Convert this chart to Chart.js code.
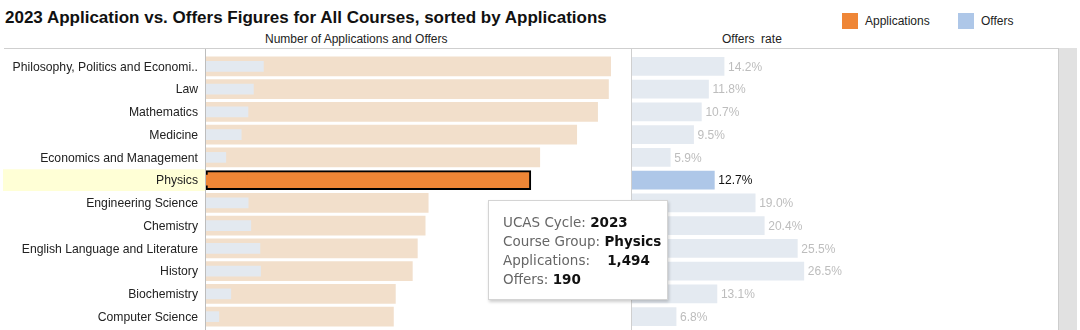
<!DOCTYPE html>
<html>
<head>
<meta charset="utf-8">
<script src="https://cdn.jsdelivr.net/npm/chart.js@4"></script>
<style>
  body { margin: 0; width: 1080px; height: 330px; overflow: hidden; background: #fff; font-family: Arial, "Liberation Sans", sans-serif; position: relative; }
  .title { position: absolute; left: 5px; top: 8px; font-size: 17px; font-weight: bold; color: #111; }
  .subtitle { position: absolute; top: 32px; font-size: 12px; color: #222; }
  .legend { position: absolute; top: 13px; font-size: 12px; color: #222; display: flex; align-items: center; }
  .legend span.sw { display: inline-block; width: 16px; height: 16px; margin-right: 7px; }
  .topline { position: absolute; left: 4px; top: 48px; width: 1054px; height: 1px; background: #cfcfcf; }
  .axisline { position: absolute; left: 205px; top: 49px; width: 1px; height: 290px; background: #bdbdbd; }
  .scroll { position: absolute; left: 1058px; top: 48px; width: 18px; height: 290px; background: #e1e1e1; border-left: 1px solid #cdcdcd; }
  .rbox { position: absolute; left: 631px; top: 48px; width: 426px; height: 290px; border-left: 1px solid #cfcfcf; border-right: 1px solid #cfcfcf; }
  #left { position: absolute; left: 0; top: 55px; }
  #right { position: absolute; left: 632px; top: 55px; }
  .tip { position: absolute; left: 488px; top: 200px; width: 180px; height: 100px; background: #fff; border: 1px solid #d4d4d4; box-shadow: 1px 2px 3px rgba(0,0,0,0.2); box-sizing: border-box; padding: 12px 0 0 14px; font-family: "DejaVu Sans", Verdana, sans-serif; font-size: 13.5px; line-height: 19px; color: #666; }
  .tip b { color: #111; }
</style>
</head>
<body>
<div class="title">2023 Application vs. Offers Figures for All Courses, sorted by Applications</div>
<div class="subtitle" style="left:265px">Number of Applications and Offers</div>
<div class="subtitle" style="left:722px">Offers&nbsp;&nbsp;rate</div>
<div class="legend" style="left:842px"><span class="sw" style="background:#ef8636"></span>Applications</div>
<div class="legend" style="left:958px"><span class="sw" style="background:#aec7e8"></span>Offers</div>
<div class="topline"></div>
<div class="rbox"></div>
<div class="scroll"></div>
<canvas id="left" width="632" height="273"></canvas>
<div class="axisline"></div>
<canvas id="right" width="426" height="273"></canvas>
<div class="tip" id="tip"></div>

<script>
const courses = ['Philosophy, Politics and Economi..', 'Law', 'Mathematics', 'Medicine', 'Economics and Management', 'Physics',
  'Engineering Science', 'Chemistry', 'English Language and Literature', 'History', 'Biochemistry', 'Computer Science'];
const applications = [1861, 1851, 1801, 1705, 1535, 1494, 1022, 1008, 972, 949, 871, 862];
const offers = [264, 218, 193, 162, 91, 190, 194, 206, 248, 251, 114, 59];
const offerRate = [14.2, 11.8, 10.7, 9.5, 5.9, 12.7, 19.0, 20.4, 25.5, 26.5, 13.1, 6.8];
const cycle = '2023';
const selected = 'Physics';

const sel = courses.indexOf(selected);
const FONT = 'Arial, "Liberation Sans", sans-serif';

// category labels + yellow highlight behind the selected row
const rowLabels = {
  id: 'rowLabels',
  beforeDraw(chart) {
    const { ctx, chartArea, scales } = chart;
    const band = chartArea.height / courses.length;
    ctx.save();
    const ys = scales.y.getPixelForValue(sel);
    ctx.fillStyle = '#ffffd6';
    ctx.fillRect(3, ys - band / 2 + 0.5, chartArea.left - 4, band - 1);
    ctx.font = '12.2px ' + FONT;
    ctx.fillStyle = '#222';
    ctx.textAlign = 'right';
    ctx.textBaseline = 'middle';
    courses.forEach((c, i) => {
      ctx.fillText(c, chartArea.left - 8, scales.y.getPixelForValue(i) + 1);
    });
    ctx.restore();
  }
};

new Chart(document.getElementById('left'), {
  type: 'bar',
  data: {
    labels: courses,
    datasets: [
      {
        label: 'Applications', data: applications, order: 1, grouped: false,
        barThickness: 19,
        backgroundColor: courses.map((c, i) => i === sel ? '#ef8636' : '#f2dfcb'),
        borderColor: courses.map((c, i) => i === sel ? '#000' : 'rgba(0,0,0,0)'),
        borderWidth: courses.map((c, i) => i === sel ? 2 : 0),
        borderSkipped: false
      },
      {
        label: 'Offers', data: offers, order: 0, grouped: false,
        barThickness: 10,
        backgroundColor: courses.map((c, i) => i === sel ? '#ef8636' : '#e3e9f0')
      }
    ]
  },
  options: {
    indexAxis: 'y', responsive: false, animation: false,
    layout: { padding: { left: 206, right: 2, top: 0, bottom: 0 } },
    plugins: { legend: { display: false }, tooltip: { enabled: false } },
    scales: {
      x: { min: 0, max: 1950, display: false },
      y: { display: false }
    }
  },
  plugins: [rowLabels]
});

const rateLabels = {
  id: 'rateLabels',
  afterDatasetsDraw(chart) {
    const { ctx } = chart;
    const meta = chart.getDatasetMeta(0);
    ctx.save();
    ctx.font = '12px ' + FONT;
    ctx.textBaseline = 'middle';
    meta.data.forEach((bar, i) => {
      ctx.fillStyle = i === sel ? '#111' : '#bdbdbd';
      ctx.fillText(offerRate[i].toFixed(1) + '%', bar.x + 4, bar.y + 1);
    });
    ctx.restore();
  }
};

new Chart(document.getElementById('right'), {
  type: 'bar',
  data: {
    labels: courses,
    datasets: [{
      label: 'Offers rate', data: offerRate, barThickness: 18,
      backgroundColor: courses.map((c, i) => i === sel ? '#aec7e8' : '#e4eaf1')
    }]
  },
  options: {
    indexAxis: 'y', responsive: false, animation: false,
    layout: { padding: 0 },
    plugins: { legend: { display: false }, tooltip: { enabled: false } },
    scales: {
      x: { min: 0, max: 65.7, display: false },
      y: { display: false }
    }
  },
  plugins: [rateLabels]
});

document.getElementById('tip').innerHTML =
  'UCAS Cycle: <b>' + cycle + '</b><br>' +
  'Course Group: <b>' + courses[sel] + '</b><br>' +
  'Applications:&nbsp;&nbsp;&nbsp; <b>' + applications[sel].toLocaleString('en-US') + '</b><br>' +
  'Offers: <b>' + offers[sel] + '</b>';
</script>
</body>
</html>
